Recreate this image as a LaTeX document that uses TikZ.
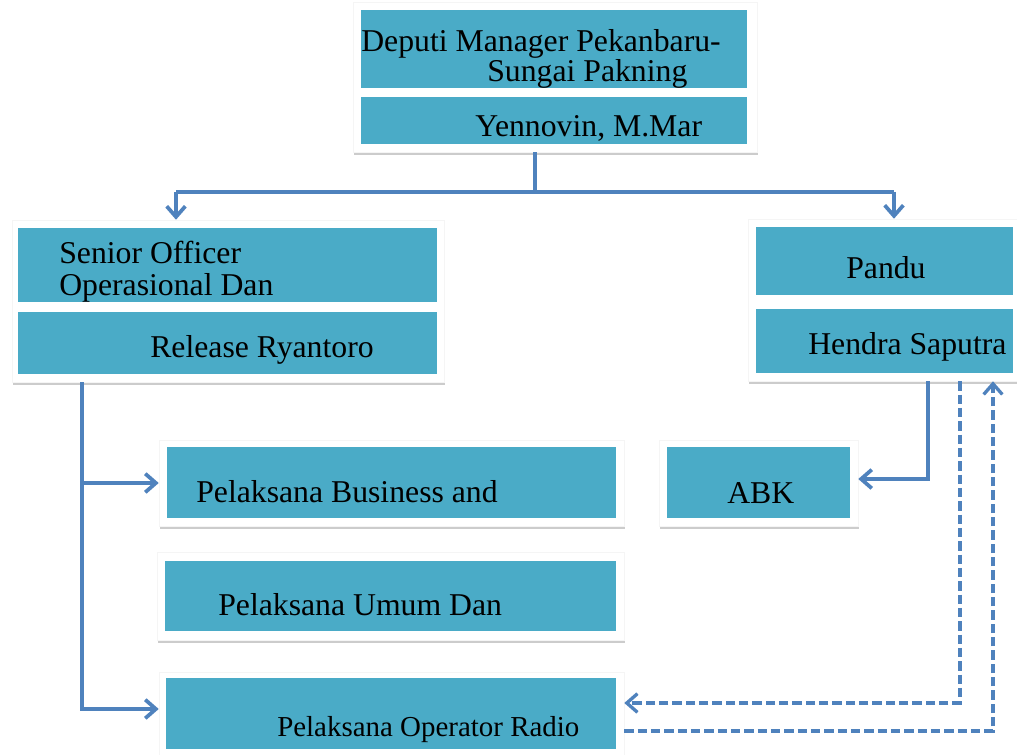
\documentclass[tikz,border=0pt]{standalone}
\usepackage{fontspec}
\setmainfont{Liberation Serif}
\usetikzlibrary{arrows.meta,fit,shadows}
\definecolor{ttaacc}{rgb}{0.29,0.67,0.78}
\definecolor{qqttbb}{rgb}{0.31,0.51,0.74}
\begin{document}
\begin{tikzpicture}[line cap=butt,line join=miter,>={Straight Barb[length=8pt,width=14pt]},x=0.75pt,y=-0.75pt,
	cardframe/.style={fill=white,draw=black!4,inner sep=0pt,drop shadow={opacity=0.4,shadow xshift=1pt,shadow yshift=-2.2pt}},
	cardcell/.style={fill=ttaacc,inner sep=0pt},
	lbl/.style={anchor=base west,inner sep=0pt,font=\fontsize{23.8}{24}\selectfont},
	conn/.style={color=qqttbb,line width=2.8pt},
	dconn/.style={conn,line width=2.5pt,dash pattern=on 7pt off 3pt}]
	\useasboundingbox (0,0) rectangle (1017,755);
	\node[cardframe,fit={(353,2) (757,152)}] (topframe) {};
	\node[cardframe,fit={(12,220) (444,382)}] (seniorframe) {};
	\node[cardframe,fit={(748,219) (1024,381)}] (panduframe) {};
	\node[cardframe,fit={(159,440) (624,526)}] (bizframe) {};
	\node[cardframe,fit={(157,552) (624,640)}] (umumframe) {};
	\node[cardframe,fit={(159,672) (624,762)}] (radioframe) {};
	\node[cardframe,fit={(659,440) (858,526)}] (abkframe) {};
		\node[cardcell,fit={(361,10) (747,88)}] (deputi) {};
		\node[cardcell,fit={(361,97) (747,144)}] (yennovin) {};
		\node[cardcell,fit={(18,228) (437,302)}] (senior) {};
		\node[cardcell,fit={(18,312) (437,374)}] (release) {};
		\node[cardcell,fit={(756,227) (1013,295)}] (pandu) {};
		\node[cardcell,fit={(756,309) (1013,373)}] (hendra) {};
		\node[cardcell,fit={(167,447) (616,518)}] (biz) {};
		\node[cardcell,fit={(165,561) (616,631)}] (umum) {};
		\node[cardcell,fit={(166,678) (616,749)}] (radio) {};
		\node[cardcell,fit={(667,447) (850,518)}] (abk) {};
	\node[lbl] (deputitxt) at (361,52) {Deputi Manager Pekanbaru-};
	\node[lbl] (sungaitxt) at (487,82) {Sungai Pakning};
	\node[lbl] (yennovintxt) at (475,137) {Yennovin, M.Mar};
	\node[lbl] (seniortxt) at (59,264) {Senior Officer};
	\node[lbl] (operasionaltxt) at (59,296) {Operasional Dan};
	\node[lbl] (releasetxt) at (150,358) {Release Ryantoro};
	\node[lbl] (pandutxt) at (846,279) {Pandu};
	\node[lbl] (hendratxt) at (808,355) {Hendra Saputra};
	\node[lbl] (biztxt) at (196,502) {Pelaksana Business and};
	\node[lbl] (umumtxt) at (218,615) {Pelaksana Umum Dan};
	\node[lbl,font=\fontsize{21.7}{22}\selectfont] (radiotxt) at (277,736) {Pelaksana Operator Radio};
	\node[lbl] (abktxt) at (727,503) {ABK};
	\coordinate (split) at (535,192);
	\coordinate (toL) at (176,192);
	\coordinate (toR) at (894,192);
	\coordinate (trunk) at (82,709);
	\coordinate (abkturn) at (928,479);
	\coordinate (dashA) at (960,703);
	\coordinate (dashB) at (993,731);
	\draw[conn] (topframe.south -| split) -- (split);
	\draw[conn] (toL) -- (toR);
	\draw[conn,->] (toL) -- (toL |- seniorframe.north);
	\draw[conn,->] (toR) -- (toR |- panduframe.north);
	\draw[conn,->] (seniorframe.south -| trunk) |- (radioframe.west |- trunk);
	\draw[conn,->] (trunk |- bizframe.west) -- (bizframe.west);
	\draw[conn,->] (panduframe.south -| abkturn) |- (abkframe.east |- abkturn);
	\draw[dconn,->] (panduframe.south -| dashA) |- (radioframe.east |- dashA);
	\draw[dconn,->] (radioframe.east |- dashB) -| (panduframe.south -| dashB);
\end{tikzpicture}
\end{document}
